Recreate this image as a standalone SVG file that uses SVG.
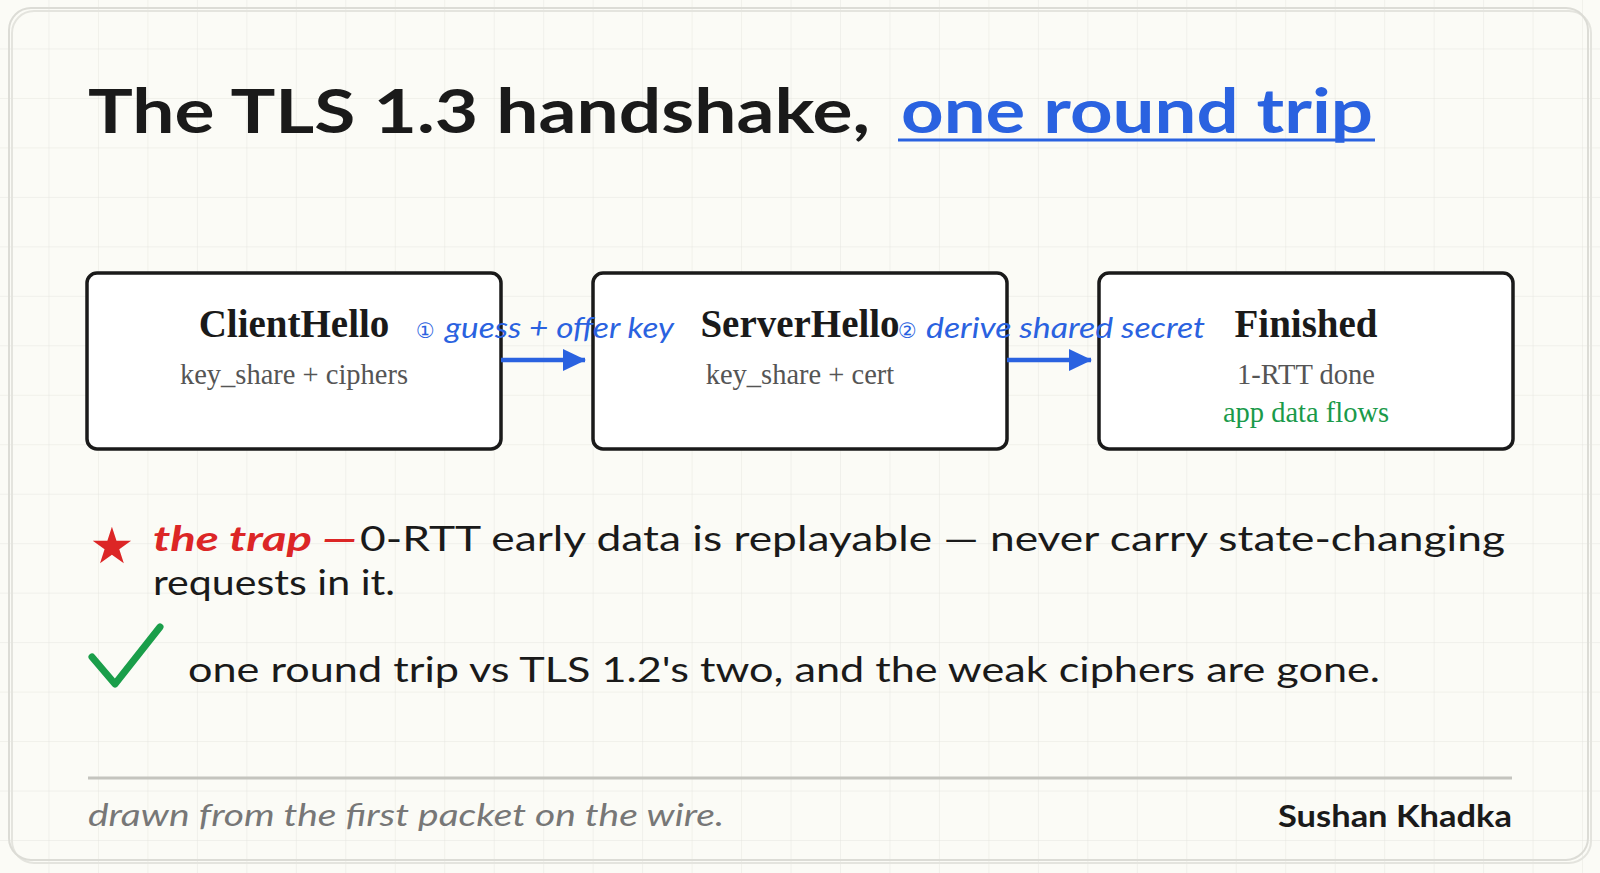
<svg xmlns="http://www.w3.org/2000/svg" width="1600" height="873" viewBox="0 0 1600 873">
  <defs>
    <pattern id="grid" x="0" y="0" width="49.47" height="49.47" patternUnits="userSpaceOnUse">
      <path d="M49.47 0 V49.47 M0 49.47 H49.47" fill="none" stroke="#e5e5df" stroke-width="1"/>
    </pattern>
    <marker id="arrow" viewBox="0 0 24 24" refX="22" refY="12" markerWidth="24" markerHeight="24" markerUnits="userSpaceOnUse" orient="auto">
      <path d="M0 1 L23 12 L0 23 Z" fill="#2a62e0"/>
    </marker>
    <style>
      .hand { font-family: Lato, "Open Sans", "DejaVu Sans", sans-serif; }
      .box { fill: #ffffff; stroke: #1a1a1a; stroke-width: 3.5; }
      .ttl { font-family: "Liberation Serif", "Times New Roman", serif; font-weight: 700; font-size: 39px; fill: #1a1a1a; text-anchor: middle; }
      .sub { font-family: "Liberation Serif", "Times New Roman", serif; font-size: 28.5px; fill: #555555; text-anchor: middle; }
      .green { fill: #1a9a4a; }
      .lbl { font-family: Lato, "Open Sans", "DejaVu Sans", sans-serif; font-style: italic; font-size: 28px; fill: #2a62e0; }
      .num { font-family: "DejaVu Sans", sans-serif; font-size: 21px; fill: #2a62e0; }
      .conn { stroke: #2a62e0; stroke-width: 4.5; fill: none; }
      .body { font-family: Lato, "Open Sans", "DejaVu Sans", sans-serif; font-size: 34px; fill: #1a1a1a; }
    </style>
  </defs>

  <rect x="0" y="0" width="1600" height="873" fill="#fbfbf6"/>
  <rect x="0" y="0" width="1600" height="873" fill="url(#grid)"/>

  <g id="card">
    <rect x="12" y="11" width="1579" height="852" rx="22" fill="none" stroke="#e4e4de" stroke-width="2"/>
    <rect x="9" y="8" width="1579" height="852" rx="22" fill="none" stroke="#dcdcd6" stroke-width="2"/>
  </g>

  <g id="title">
    <text class="hand" x="88" y="133" font-size="62" font-weight="700" fill="#1a1a1a" textLength="782" lengthAdjust="spacingAndGlyphs">The TLS 1.3 handshake,</text>
    <text class="hand" x="901" y="133" font-size="62" font-weight="700" fill="#2a62e0" textLength="472" lengthAdjust="spacingAndGlyphs">one round trip</text>
    <line x1="898" y1="140" x2="1375" y2="140" stroke="#2a62e0" stroke-width="3"/>
  </g>

  <g id="node-clienthello">
    <rect class="box" x="87" y="273" width="414" height="176" rx="10"/>
    <text class="ttl" x="294" y="337">ClientHello</text>
    <text class="sub" x="294" y="384">key_share + ciphers</text>
  </g>

  <g id="node-serverhello">
    <rect class="box" x="593" y="273" width="414" height="176" rx="10"/>
    <text class="ttl" x="800" y="337">ServerHello</text>
    <text class="sub" x="800" y="384">key_share + cert</text>
  </g>

  <g id="node-finished">
    <rect class="box" x="1099" y="273" width="414" height="176" rx="10"/>
    <text class="ttl" x="1306" y="337">Finished</text>
    <text class="sub" x="1306" y="384">1-RTT done</text>
    <text class="sub green" x="1306" y="422">app data flows</text>
  </g>

  <g id="connectors">
    <line class="conn" x1="501" y1="360" x2="585" y2="360" marker-end="url(#arrow)"/>
    <line class="conn" x1="1007" y1="360" x2="1091" y2="360" marker-end="url(#arrow)"/>
    <text class="num" x="416" y="338">①</text>
    <text class="lbl" x="445" y="338" textLength="229" lengthAdjust="spacingAndGlyphs">guess + offer key</text>
    <text class="num" x="898" y="338">②</text>
    <text class="lbl" x="926" y="338" textLength="279" lengthAdjust="spacingAndGlyphs">derive shared secret</text>
  </g>

  <g id="trap-note">
    <text x="112" y="563" font-family="DejaVu Sans, sans-serif" font-size="50" fill="#dc2626" text-anchor="middle">★</text>
    <text class="hand" x="153" y="551" font-size="34" font-style="italic" font-weight="700" fill="#dc2626" textLength="204" lengthAdjust="spacingAndGlyphs">the trap —</text>
    <text class="body" x="360" y="551" textLength="1145" lengthAdjust="spacingAndGlyphs">0-RTT early data is replayable — never carry state-changing</text>
    <text class="body" x="153" y="595" textLength="242" lengthAdjust="spacingAndGlyphs">requests in it.</text>
  </g>

  <g id="win-note">
    <path d="M92 657 L115 684 L160 627" fill="none" stroke="#1a9e4a" stroke-width="7" stroke-linecap="round" stroke-linejoin="round"/>
    <text class="body" x="188" y="682" textLength="1192" lengthAdjust="spacingAndGlyphs">one round trip vs TLS 1.2's two, and the weak ciphers are gone.</text>
  </g>

  <g id="footer">
    <line x1="88" y1="778" x2="1512" y2="778" stroke="#c4c4be" stroke-width="3"/>
    <text class="hand" x="88" y="826" font-size="30" font-style="italic" fill="#777777" textLength="636" lengthAdjust="spacingAndGlyphs">drawn from the first packet on the wire.</text>
    <text class="hand" x="1278" y="827" font-size="30" font-weight="700" fill="#1a1a1a" textLength="234" lengthAdjust="spacingAndGlyphs">Sushan Khadka</text>
  </g>
</svg>
